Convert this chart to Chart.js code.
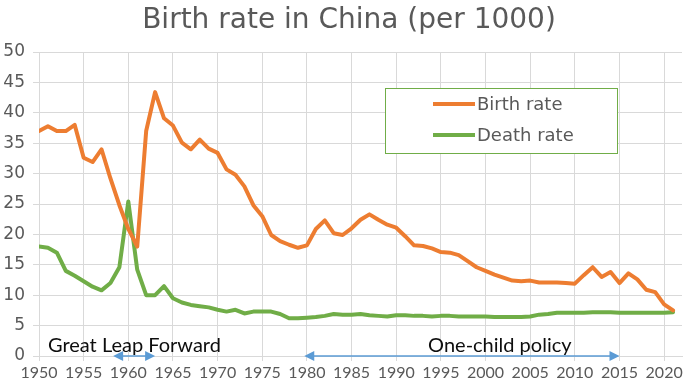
<!DOCTYPE html>
<html>
<head>
<meta charset="utf-8">
<title>Birth rate in China</title>
<script src="https://cdn.jsdelivr.net/npm/chart.js@4.4.1/dist/chart.umd.min.js"></script>
<style>
  html, body { margin: 0; padding: 0; background: #fff; }
  canvas { display: block; }
</style>
</head>
<body>
<canvas id="chart" width="698" height="392"></canvas>
<script>
// data (per 1000 people)
const years = [
  1950, 1951, 1952, 1953, 1954, 1955, 1956, 1957, 1958, 1959,
  1960, 1961, 1962, 1963, 1964, 1965, 1966, 1967, 1968, 1969,
  1970, 1971, 1972, 1973, 1974, 1975, 1976, 1977, 1978, 1979,
  1980, 1981, 1982, 1983, 1984, 1985, 1986, 1987, 1988, 1989,
  1990, 1991, 1992, 1993, 1994, 1995, 1996, 1997, 1998, 1999,
  2000, 2001, 2002, 2003, 2004, 2005, 2006, 2007, 2008, 2009,
  2010, 2011, 2012, 2013, 2014, 2015, 2016, 2017, 2018, 2019,
  2020, 2021
];
const birthRate = [
  37.0, 37.8, 37.0, 37.0, 38.0, 32.6, 31.9, 34.0, 29.2, 24.8,
  20.9, 18.0, 37.0, 43.4, 39.1, 37.9, 35.1, 34.0, 35.6, 34.1,
  33.4, 30.7, 29.8, 27.9, 24.8, 23.0, 19.9, 18.9, 18.3, 17.8,
  18.2, 20.9, 22.3, 20.2, 19.9, 21.0, 22.4, 23.3, 22.4, 21.6,
  21.1, 19.7, 18.2, 18.1, 17.7, 17.1, 17.0, 16.6, 15.6, 14.6,
  14.0, 13.4, 12.9, 12.4, 12.3, 12.4, 12.1, 12.1, 12.1, 12.0,
  11.9, 13.3, 14.6, 13.0, 13.8, 12.0, 13.6, 12.6, 10.9, 10.5,
  8.5, 7.5
];
const deathRate = [
  18.0, 17.8, 17.0, 14.0, 13.2, 12.3, 11.4, 10.8, 12.0, 14.6,
  25.4, 14.2, 10.0, 10.0, 11.5, 9.5, 8.8, 8.4, 8.2, 8.0,
  7.6, 7.3, 7.6, 7.0, 7.3, 7.3, 7.3, 6.9, 6.2, 6.2,
  6.3, 6.4, 6.6, 6.9, 6.8, 6.8, 6.9, 6.7, 6.6, 6.5,
  6.7, 6.7, 6.6, 6.6, 6.5, 6.6, 6.6, 6.5, 6.5, 6.5,
  6.5, 6.4, 6.4, 6.4, 6.4, 6.5, 6.8, 6.9, 7.1, 7.1,
  7.1, 7.1, 7.2, 7.2, 7.2, 7.1, 7.1, 7.1, 7.1, 7.1,
  7.1, 7.2
];
const xTicks = [1950, 1955, 1960, 1965, 1970, 1975, 1980, 1985, 1990, 1995, 2000, 2005, 2010, 2015, 2020];
const yTicks = [0, 5, 10, 15, 20, 25, 30, 35, 40, 45, 50];
const chartTitle = 'Birth rate in China (per 1000)';

// marked periods
const periodLabels = ['Great Leap Forward', 'One-child policy'];
const periodStart = [1958.3, 1979.7];
const periodEnd = [1963, 2015];
const periodTextYear = [1951, 2001.6];
const periodTextAlign = ['left', 'center'];

const ORANGE = '#ed7d31';
const GREEN = '#70ad47';
const BLUE = '#5b9bd5';
const GRID = '#d9d9d9';
const TEXT = '#595959';

function toPoints(vals) {
  return years.map((yr, i) => ({ x: yr, y: vals[i] }));
}

function arrowHead(ctx, tipX, y, dir) {
  ctx.beginPath();
  ctx.moveTo(tipX, y);
  ctx.lineTo(tipX + dir * 10, y - 5);
  ctx.lineTo(tipX + dir * 10, y + 5);
  ctx.closePath();
  ctx.fill();
}

const extras = {
  id: 'extras',
  beforeDraw(chart) {
    // title, centred on the whole canvas
    const ctx = chart.ctx;
    ctx.save();
    ctx.fillStyle = TEXT;
    ctx.font = '28px "DejaVu Sans"';
    ctx.textAlign = 'center';
    ctx.textBaseline = 'middle';
    ctx.fillText(chartTitle, chart.width / 2, 21);
    ctx.restore();
  },
  afterDatasetsDraw(chart) {
    const { ctx, scales: { x, y } } = chart;
    ctx.save();

    // period arrows + labels
    const y0 = y.getPixelForValue(0);
    periodLabels.forEach((label, i) => {
      const xs = x.getPixelForValue(periodStart[i]);
      const xe = x.getPixelForValue(periodEnd[i]);
      ctx.strokeStyle = BLUE;
      ctx.fillStyle = BLUE;
      ctx.lineWidth = 1.5;
      ctx.beginPath();
      ctx.moveTo(xs + 6, y0);
      ctx.lineTo(xe - 6, y0);
      ctx.stroke();
      arrowHead(ctx, xs, y0, 1);
      arrowHead(ctx, xe, y0, -1);

      ctx.fillStyle = '#0d0d0d';
      ctx.font = '20px Lato';
      ctx.textAlign = periodTextAlign[i];
      ctx.textBaseline = 'alphabetic';
      ctx.fillText(label, x.getPixelForValue(periodTextYear[i]), y0 - 4);
    });

    // legend box
    const lx = 385, ly = 88, lw = 232, lh = 65;
    ctx.fillStyle = '#fff';
    ctx.fillRect(lx, ly, lw, lh);
    ctx.strokeStyle = GREEN;
    ctx.lineWidth = 1;
    ctx.strokeRect(lx + 0.5, ly + 0.5, lw, lh);

    chart.data.datasets.forEach((ds, i) => {
      const ry = ly + 16 + i * 31;
      ctx.strokeStyle = ds.borderColor;
      ctx.lineWidth = 4;
      ctx.beginPath();
      ctx.moveTo(433, ry);
      ctx.lineTo(475, ry);
      ctx.stroke();
      ctx.fillStyle = TEXT;
      ctx.font = '18px "DejaVu Sans"';
      ctx.textAlign = 'left';
      ctx.textBaseline = 'middle';
      ctx.fillText(ds.label, 477, ry + 1);
    });

    ctx.restore();
  }
};

new Chart(document.getElementById('chart'), {
  type: 'line',
  data: {
    datasets: [
      { label: 'Birth rate', data: toPoints(birthRate), borderColor: ORANGE, backgroundColor: ORANGE },
      { label: 'Death rate', data: toPoints(deathRate), borderColor: GREEN, backgroundColor: GREEN }
    ]
  },
  options: {
    responsive: false,
    animation: false,
    layout: { padding: { left: 0, right: 16, top: 52, bottom: 0 } },
    elements: {
      line: { borderWidth: 4, tension: 0, borderJoinStyle: 'round', borderCapStyle: 'round' },
      point: { radius: 0, hoverRadius: 0 }
    },
    plugins: {
      legend: { display: false },
      tooltip: { enabled: false },
      title: { display: false }
    },
    scales: {
      x: {
        type: 'linear',
        min: 1950,
        max: 2022,
        afterBuildTicks: s => { s.ticks = xTicks.map(v => ({ value: v })); },
        afterFit: s => { s.height = 36; },
        grid: { color: GRID, lineWidth: 1, tickLength: 5 },
        border: { color: GRID },
        ticks: {
          color: TEXT,
          font: { family: 'Lato', size: 16 },
          padding: 2,
          maxRotation: 0,
          autoSkip: false,
          callback: v => String(v)
        }
      },
      y: {
        min: 0,
        max: 50,
        afterBuildTicks: s => { s.ticks = yTicks.map(v => ({ value: v })); },
        afterFit: s => { s.width = 39; },
        grid: { color: GRID, lineWidth: 1, tickLength: 6 },
        border: { color: GRID },
        ticks: {
          color: TEXT,
          font: { family: '"DejaVu Sans"', size: 17 },
          padding: 8
        }
      }
    }
  },
  plugins: [extras]
});
</script>
</body>
</html>
